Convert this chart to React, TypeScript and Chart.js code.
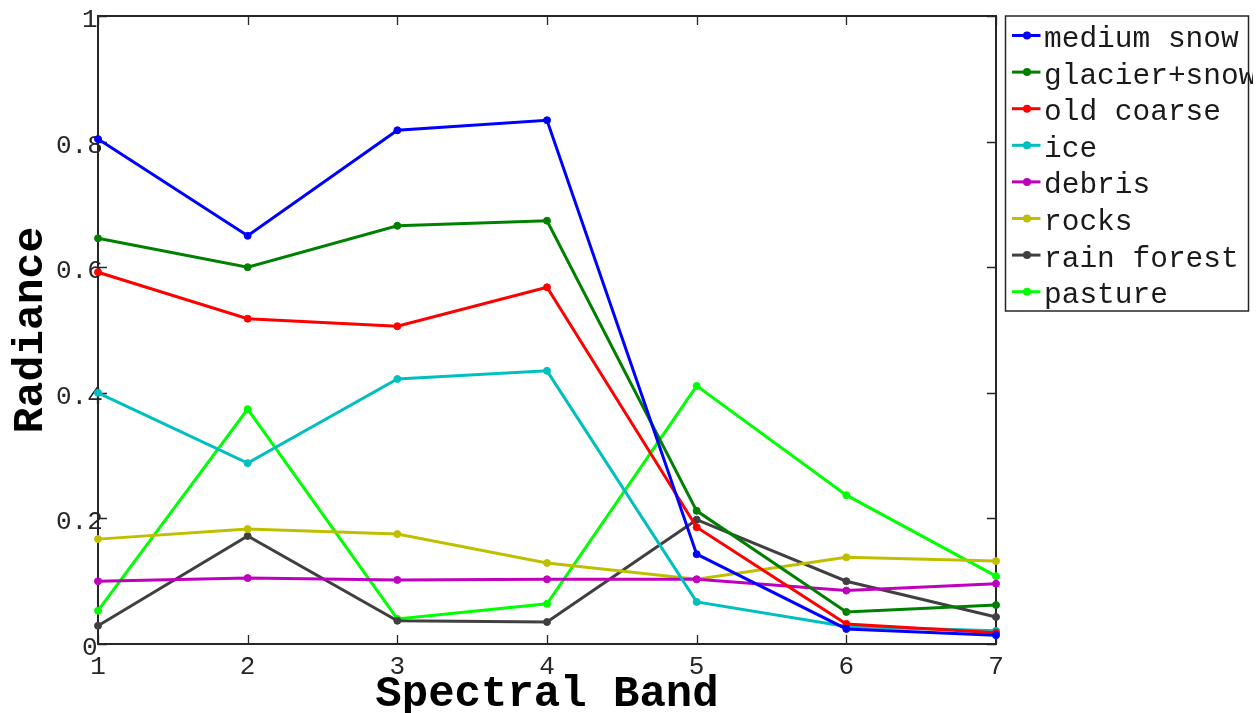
import React, { useEffect, useRef } from "react";
import { Chart, registerables } from "chart.js";

Chart.register(...registerables);

const bands = ["1", "2", "3", "4", "5", "6", "7"];
const yTickLabels = ["0", "0.2", "0.4", "0.6", "0.8", "1"];

const mediumSnow = [0.804, 0.65, 0.818, 0.834, 0.143, 0.024, 0.014];
const glacierSnow = [0.646, 0.6, 0.666, 0.674, 0.212, 0.051, 0.062];
const oldCoarse = [0.592, 0.518, 0.506, 0.568, 0.186, 0.032, 0.018];
const ice = [0.4, 0.288, 0.422, 0.435, 0.067, 0.028, 0.021];
const debris = [0.1, 0.105, 0.102, 0.103, 0.103, 0.085, 0.096];
const rocks = [0.167, 0.183, 0.175, 0.129, 0.103, 0.138, 0.132];
const rainForest = [0.029, 0.172, 0.037, 0.035, 0.198, 0.1, 0.043];
const pasture = [0.053, 0.374, 0.04, 0.064, 0.411, 0.237, 0.108];

const seriesNames = [
  "medium snow",
  "glacier+snow",
  "old coarse",
  "ice",
  "debris",
  "rocks",
  "rain forest",
  "pasture",
];
const seriesValues = [mediumSnow, glacierSnow, oldCoarse, ice, debris, rocks, rainForest, pasture];
const seriesColors = ["#0000ff", "#008000", "#ff0000", "#00bfbf", "#bf00bf", "#bfbf00", "#404040", "#00ff00"];

const MONO = "'Liberation Mono', 'DejaVu Sans Mono', monospace";

const framePlugin = {
  id: "matlabFrame",
  beforeDatasetsDraw(chart: any) {
    const { ctx, chartArea, scales } = chart;
    const { left, right, top, bottom } = chartArea;
    const tl = 9;
    ctx.save();
    ctx.strokeStyle = "#262626";
    ctx.lineWidth = 2;
    ctx.strokeRect(left, top, right - left, bottom - top);
    ctx.lineWidth = 1.3;
    // x ticks (inward, bottom and top)
    const xs = scales.x;
    for (let i = 0; i < bands.length; i++) {
      const px = Math.round(xs.getPixelForValue(i)) + 0.5;
      ctx.beginPath();
      ctx.moveTo(px, bottom);
      ctx.lineTo(px, bottom - tl);
      ctx.moveTo(px, top);
      ctx.lineTo(px, top + tl);
      ctx.stroke();
    }
    // y ticks (inward, left and right) and labels
    const ys = scales.y;
    ctx.font = `26px ${MONO}`;
    ctx.fillStyle = "#262626";
    ctx.textAlign = "left";
    ctx.textBaseline = "middle";
    for (let i = 0; i < yTickLabels.length; i++) {
      const v = parseFloat(yTickLabels[i]);
      const py = Math.round(ys.getPixelForValue(v)) + 0.5;
      ctx.beginPath();
      ctx.moveTo(left, py);
      ctx.lineTo(left + tl, py);
      ctx.moveTo(right, py);
      ctx.lineTo(right - tl, py);
      ctx.stroke();
      const lab = yTickLabels[i];
      ctx.fillText(lab, left - 3 - 13 * lab.length, py + 4);
    }
    ctx.restore();
  },
  afterDraw(chart: any) {
    const { ctx, chartArea } = chart;
    const bx = chartArea.right + 9.5;
    const by = chartArea.top;
    const bw = 243;
    const bh = 295;
    ctx.save();
    ctx.fillStyle = "#ffffff";
    ctx.fillRect(bx, by, bw, bh);
    ctx.strokeStyle = "#262626";
    ctx.lineWidth = 1.5;
    ctx.strokeRect(bx, by, bw, bh);
    ctx.beginPath();
    ctx.rect(0, 0, 1253, 713);
    ctx.clip();
    const ds = chart.data.datasets;
    ctx.font = `29.5px ${MONO}`;
    ctx.textAlign = "left";
    ctx.textBaseline = "alphabetic";
    for (let i = 0; i < ds.length; i++) {
      const ly = by + 19.5 + i * 36.6;
      ctx.strokeStyle = ds[i].borderColor;
      ctx.lineWidth = 3;
      ctx.beginPath();
      ctx.moveTo(bx + 6.5, ly);
      ctx.lineTo(bx + 35, ly);
      ctx.stroke();
      ctx.fillStyle = ds[i].borderColor;
      ctx.beginPath();
      ctx.arc(bx + 21.5, ly, 4, 0, Math.PI * 2);
      ctx.fill();
      ctx.fillStyle = "#1a1a1a";
      ctx.fillText(ds[i].label, bx + 38.5, ly + 11.4);
    }
    ctx.restore();
  },
};

export default function App() {
  const canvasRef = useRef<HTMLCanvasElement | null>(null);

  useEffect(() => {
    const canvas = canvasRef.current;
    if (!canvas) return;
    const chart = new Chart(canvas, {
      type: "line",
      data: {
        labels: bands,
        datasets: seriesNames.map((name, i) => ({
          label: name,
          data: seriesValues[i],
          borderColor: seriesColors[i],
          backgroundColor: seriesColors[i],
          borderWidth: 3,
          pointRadius: 3.5,
          pointBorderWidth: 1,
          pointBackgroundColor: seriesColors[i],
          pointBorderColor: seriesColors[i],
          tension: 0,
          fill: false,
          clip: false as any,
        })),
      },
      options: {
        animation: false,
        responsive: true,
        maintainAspectRatio: false,
        layout: { padding: { left: 0, top: 16, right: 262, bottom: 0 } },
        plugins: {
          legend: { display: false },
          tooltip: { enabled: false },
        },
        scales: {
          x: {
            type: "category",
            offset: false,
            grid: { display: false, drawTicks: false },
            border: { display: false },
            ticks: {
              padding: 8,
              color: "#262626",
              font: { family: MONO, size: 26 },
              maxRotation: 0,
              autoSkip: false,
            },
            title: {
              display: true,
              text: "Spectral Band",
              color: "#000000",
              font: { family: MONO, size: 44, weight: "bold", lineHeight: 0.8 },
              padding: 0,
            },
            afterFit: (s: any) => {
              s.height = 69;
            },
          },
          y: {
            type: "linear",
            min: 0,
            max: 1,
            grid: { display: false, drawTicks: false },
            border: { display: false },
            ticks: { display: false, stepSize: 0.2 },
            title: {
              display: true,
              text: "Radiance",
              color: "#000000",
              font: { family: MONO, size: 43, weight: "bold", lineHeight: 1.2 },
              padding: { top: 5, bottom: 0 },
            },
            afterFit: (s: any) => {
              s.width = 98;
            },
          },
        },
      },
      plugins: [framePlugin],
    });
    return () => chart.destroy();
  }, []);

  return (
    <div style={{ position: "absolute", left: 0, top: 0, width: 1258, height: 713, background: "#fff" }}>
      <canvas ref={canvasRef} />
    </div>
  );
}
